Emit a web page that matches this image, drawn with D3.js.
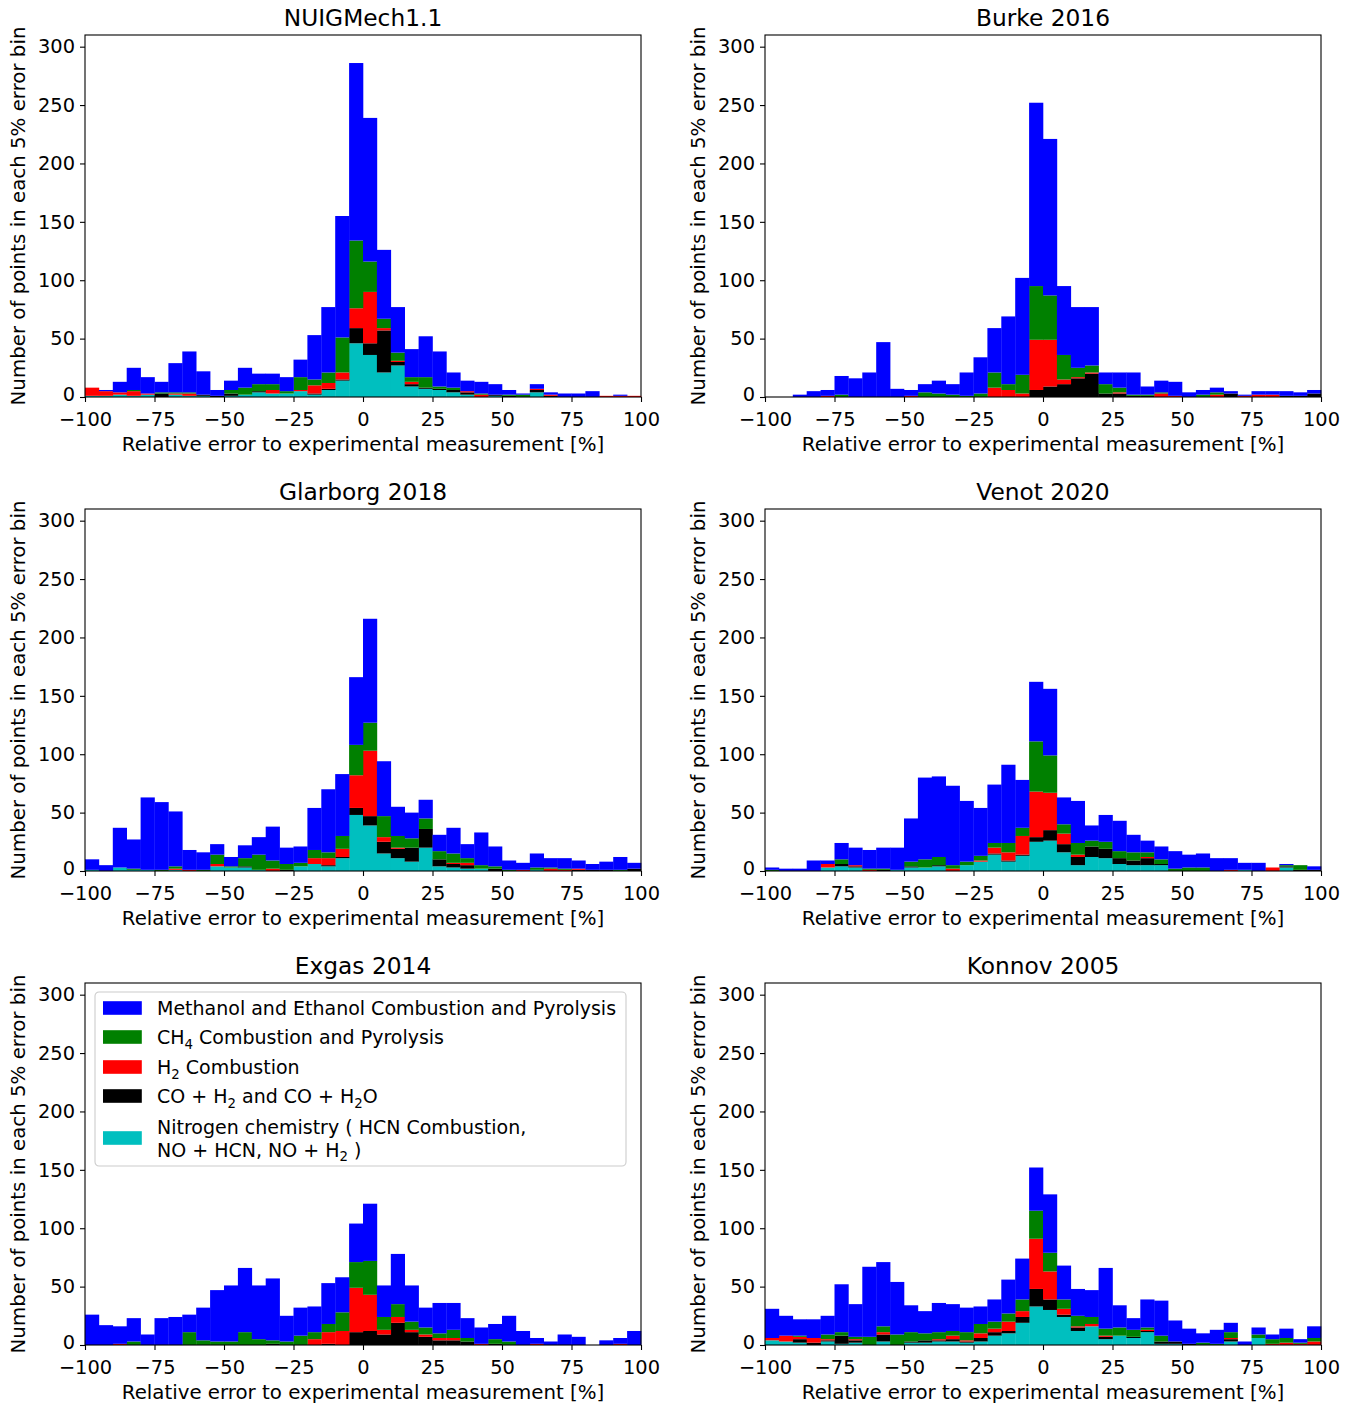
<!DOCTYPE html>
<html><head><meta charset="utf-8">
<script src="https://cdn.jsdelivr.net/npm/d3@7"></script>
<style>
body{margin:0;background:#fff}
text{font-family:"DejaVu Sans",sans-serif;fill:#000}
</style>
</head><body><div id="chart"></div>
<script>
// ---------------- DATA ----------------
const modelNames = ["NUIGMech1.1","Burke 2016","Glarborg 2018","Venot 2020","Exgas 2014","Konnov 2005"];
const xTicks = [-100,-75,-50,-25,0,25,50,75,100];
const yTicks = [0,50,100,150,200,250,300];
const binStart = -100, binWidth = 5, binCount = 40;

// series (stack order bottom -> top): Nitrogen, CO, H2, CH4, Methanol/Ethanol
const nuigN    = [1,1,2,1,2,0,2,1,1,0, 1,2,4,3,3,5,2,6,14,46, 36,21,27,9,7,6,4,2,0,1, 0,0,4,0,0,0,0,0,0,0];
const nuigCO   = [0,0,0,0,0,3,0,0,1,1, 2,0,1,0,0,0,1,1,1,13, 10,36,3,2,1,1,2,2,0,1, 1,0,2,1,0,0,0,0,0,0];
const nuigH2   = [7,4,2,4,1,0,1,2,0,0, 0,0,0,3,0,1,7,5,6,17, 44,2,1,2,0,0,0,1,2,0, 0,0,1,1,0,0,0,1,1,1];
const nuigCH4  = [0,0,0,1,0,1,1,1,0,0, 3,6,6,5,2,11,5,9,30,58, 26,8,7,4,9,2,2,0,1,0, 1,2,0,0,0,0,0,0,0,0];
const nuigMeOH = [0,1,9,19,14,9,25,35,20,5, 8,17,9,9,12,15,38,56,104,152, 123,59,39,24,35,30,13,9,10,9, 4,1,4,2,3,3,5,0,1,0];

const burkeN    = [0,0,0,0,0,0,0,0,0,0, 0,0,0,0,0,0,0,0,0,0, 0,0,0,0,0,0,0,0,0,0, 0,0,0,0,0,0,0,0,0,0];
const burkeCO   = [0,0,0,0,0,0,0,0,0,0, 0,0,0,0,0,0,0,0,0,6, 9,11,16,20,3,3,1,1,0,0, 0,0,0,3,0,0,0,1,1,3];
const burkeH2   = [0,0,0,0,1,0,0,0,0,0, 1,0,0,0,0,0,8,6,3,43, 40,4,1,1,0,1,0,0,3,1, 0,0,2,0,1,2,2,0,0,0];
const burkeCH4  = [0,0,0,0,0,2,0,0,0,0, 0,4,3,2,1,3,13,5,16,46, 38,21,8,6,8,4,1,1,1,0, 0,2,2,0,0,0,0,0,0,0];
const burkeMeOH = [0,0,2,5,5,16,16,21,47,7, 5,7,11,9,20,31,38,58,83,157, 134,59,52,50,10,13,19,7,10,12, 4,4,4,2,1,3,3,4,3,3];

const glarN    = [1,0,3,1,1,0,1,0,0,4, 3,3,1,0,0,4,6,4,11,48, 39,15,11,8,20,4,3,2,2,0, 0,0,1,0,0,0,0,0,0,0];
const glarCO   = [0,0,0,0,0,0,0,0,0,0, 0,1,0,0,1,0,0,1,1,6, 8,10,8,12,16,6,3,3,0,2, 0,0,0,0,0,1,1,1,0,2];
const glarH2   = [0,0,0,0,0,0,1,1,0,2, 0,0,0,2,0,0,5,6,7,28, 56,4,1,0,0,0,1,2,0,0, 0,1,0,2,1,1,0,0,0,0];
const glarCH4  = [0,0,0,1,0,1,2,0,1,8, 1,7,13,7,5,3,7,5,11,26, 24,18,10,8,9,7,8,4,3,2, 1,0,2,1,1,0,0,0,1,0];
const glarMeOH = [9,5,34,25,62,58,47,17,15,9, 8,11,15,29,14,14,36,54,53,58, 89,47,25,22,16,14,22,12,28,17, 8,6,12,8,9,7,5,7,11,5];

const venotN    = [0,0,0,0,3,4,3,0,0,1, 3,3,4,0,5,8,14,8,13,25, 26,16,5,12,11,6,5,5,5,0, 0,0,0,0,1,0,0,3,0,0];
const venotCO   = [0,0,0,0,0,2,1,0,1,0, 1,0,1,0,0,0,1,1,1,4, 9,7,7,9,8,5,4,6,1,0, 0,0,0,0,0,0,0,1,1,1];
const venotH2   = [0,0,0,0,3,0,1,1,0,0, 0,0,0,2,0,1,5,7,16,39, 32,9,2,0,0,0,0,1,0,0, 0,0,0,1,0,0,3,0,0,0];
const venotCH4  = [1,0,0,0,0,4,0,1,1,0, 4,7,7,3,3,4,4,8,7,43, 32,8,10,5,6,6,7,4,4,2, 3,3,0,0,0,0,0,1,4,0];
const venotMeOH = [2,2,2,9,3,14,15,16,18,19, 37,70,69,68,52,41,50,67,41,51, 57,23,36,13,23,26,15,10,11,15, 11,12,11,10,6,7,0,1,0,3];

const exgasN    = [0,0,0,0,0,0,0,0,0,0, 0,0,0,0,0,0,0,0,0,0, 0,0,0,0,0,0,0,0,0,0, 0,0,0,0,0,0,0,0,0,0];
const exgasCO   = [0,0,0,0,0,0,0,0,0,0, 0,0,0,1,0,0,0,1,0,11, 12,9,19,11,7,4,4,3,0,1, 0,0,0,0,0,0,0,0,0,0];
const exgasH2   = [0,0,1,0,0,0,0,0,0,0, 0,0,0,0,0,0,5,10,12,38, 31,4,5,2,2,2,2,0,1,0, 0,0,1,0,0,0,0,0,1,0];
const exgasCH4  = [0,0,0,3,0,0,0,11,4,3, 3,11,5,3,3,8,6,7,16,22, 29,11,11,7,6,4,7,3,0,4, 3,0,0,0,0,0,0,0,0,0];
const exgasMeOH = [26,17,15,20,9,23,24,15,28,44, 48,55,46,53,22,24,22,35,30,33, 49,27,43,31,17,26,23,17,14,13, 22,12,5,3,9,7,0,4,5,12];

const konnovN    = [4,3,2,0,3,1,2,0,3,0, 2,2,3,3,2,3,8,10,19,33, 30,24,12,16,5,8,6,11,1,1, 0,0,0,3,0,6,0,0,0,0];
const konnovCO   = [0,0,3,2,1,7,2,0,6,0, 1,2,1,2,1,3,3,2,5,15, 9,2,3,0,2,0,1,1,2,2, 1,0,0,2,0,0,0,0,0,0];
const konnovH2   = [2,5,2,4,1,0,1,0,2,0, 0,0,1,3,1,4,3,8,5,43, 24,5,1,2,1,0,0,1,0,0, 0,0,0,1,0,0,1,2,1,3];
const konnovCH4  = [0,0,1,0,4,3,2,7,5,9, 8,6,6,4,7,8,6,7,10,24, 16,8,9,6,6,7,6,2,5,0, 0,2,1,5,0,3,4,4,1,3];
const konnovMeOH = [25,17,14,16,16,41,28,60,55,45, 23,19,25,23,21,15,19,29,35,37, 50,29,23,23,52,19,10,24,30,18, 13,8,12,8,3,6,4,8,3,10];

const seriesKeys = ["N","CO","H2","CH4","MeOH"];
const modelSeries = [
  [nuigN, nuigCO, nuigH2, nuigCH4, nuigMeOH],
  [burkeN, burkeCO, burkeH2, burkeCH4, burkeMeOH],
  [glarN, glarCO, glarH2, glarCH4, glarMeOH],
  [venotN, venotCO, venotH2, venotCH4, venotMeOH],
  [exgasN, exgasCO, exgasH2, exgasCH4, exgasMeOH],
  [konnovN, konnovCO, konnovH2, konnovCH4, konnovMeOH]
];

// ---------------- STYLE / LAYOUT ----------------
const colors = {N:"#00bfbf", CO:"#000000", H2:"#ff0000", CH4:"#008000", MeOH:"#0000ff"};
const W = 1357, H = 1405;
const colX = [85, 765], rowY = [35, 509, 983];
const PW = 556, PH = 362;
const fs = 19.4, titleFs = 23.3, legFs = 19;

const svg = d3.select("#chart").append("svg")
  .attr("width", W).attr("height", H)
  .style("background","#fff");

const x = d3.scaleLinear().domain([-100,100]).range([0, PW]);
const y = d3.scaleLinear().domain([0,310]).range([PH, 0]);
const minus = d => d < 0 ? "\u2212" + Math.abs(d) : String(d);

const stack = d3.stack().keys(seriesKeys);

modelNames.forEach((name, mi) => {
  const gx = colX[mi % 2], gy = rowY[Math.floor(mi / 2)];
  const g = svg.append("g").attr("transform", `translate(${gx},${gy})`);

  const rows = d3.range(binCount).map(i => {
    const o = {x0: binStart + i * binWidth};
    seriesKeys.forEach((k, si) => o[k] = modelSeries[mi][si][i]);
    return o;
  });
  const layers = stack(rows);

  const bw = x(binStart + binWidth) - x(binStart);
  g.selectAll("g.layer").data(layers).join("g")
    .attr("class","layer")
    .attr("fill", d => colors[d.key])
    .selectAll("rect").data(d => d.filter(v => v[1] > v[0])).join("rect")
    .attr("x", d => x(d.data.x0))
    .attr("width", bw + 0.3)
    .attr("y", d => y(d[1]))
    .attr("height", d => y(d[0]) - y(d[1]));

  // axes
  const xa = g.append("g").attr("transform", `translate(0,${PH})`)
    .call(d3.axisBottom(x).tickValues(xTicks).tickFormat(minus).tickSize(5).tickPadding(10));
  const ya = g.append("g")
    .call(d3.axisLeft(y).tickValues(yTicks).tickSize(5).tickPadding(5));
  [xa, ya].forEach(a => {
    a.select(".domain").remove();
    a.selectAll("line").attr("stroke","#000").attr("stroke-width",1.1);
    a.selectAll("text").attr("font-size", fs).attr("font-family","DejaVu Sans").attr("fill","#000");
  });
  // lift the "0" y label a little so it does not touch the x tick labels
  ya.selectAll(".tick").filter(d => d === 0).select("text").attr("dy","0.2em");

  // frame
  g.append("rect").attr("width", PW).attr("height", PH)
    .attr("fill","none").attr("stroke","#000").attr("stroke-width",1.1);

  // title
  g.append("text").attr("x", PW/2).attr("y", -9)
    .attr("text-anchor","middle").attr("font-size", titleFs).text(name);

  // axis labels
  g.append("text").attr("x", PW/2).attr("y", PH + 54)
    .attr("text-anchor","middle").attr("font-size", 19.8)
    .text("Relative error to experimental measurement [%]");
  g.append("text")
    .attr("transform", `translate(${-60},${PH/2}) rotate(-90)`)
    .attr("text-anchor","middle").attr("font-size", 19.8)
    .text("Number of points in each 5% error bin");
});

// ---------------- LEGEND (in Exgas panel) ----------------
const legendLabels = [
  [["Methanol and Ethanol Combustion and Pyrolysis"]],
  [["CH"],["4","sub"],[" Combustion and Pyrolysis"]],
  [["H"],["2","sub"],[" Combustion"]],
  [["CO + H"],["2","sub"],[" and CO + H"],["2","sub"],["O"]],
  [["Nitrogen chemistry ( HCN Combustion,"]],
];
const legendLine2 = [["NO + HCN, NO + H"],["2","sub"],[" )"]];
const legendKeys = ["MeOH","CH4","H2","CO","N"];

const lg = svg.append("g").attr("transform","translate(95,992)");
lg.append("rect").attr("width",531).attr("height",174).attr("rx",4)
  .attr("fill","#fff").attr("fill-opacity",0.8)
  .attr("stroke","#cccccc").attr("stroke-width",1.1);

const rowCenters = [16, 45, 75, 104, 146];
const subShift = 4.5;
function addRich(textSel, parts){
  let shifted = false;
  parts.forEach(p => {
    const ts = textSel.append("tspan").text(p[0]);
    if (p[1] === "sub") {
      ts.attr("font-size", legFs*0.7).attr("dy", shifted ? 0 : subShift);
      shifted = true;
    } else {
      if (shifted) ts.attr("dy", -subShift);
      shifted = false;
    }
  });
}
legendKeys.forEach((k, i) => {
  const cy = rowCenters[i];
  lg.append("rect").attr("x",8).attr("y", cy - 6.8).attr("width",38.8).attr("height",13.6)
    .attr("fill", colors[k]);
  if (i < 4) {
    const t = lg.append("text").attr("x",62).attr("y", cy + 7).attr("font-size", legFs);
    addRich(t, legendLabels[i]);
  } else {
    const t1 = lg.append("text").attr("x",62).attr("y", cy - 4.5).attr("font-size", legFs);
    addRich(t1, legendLabels[i]);
    const t2 = lg.append("text").attr("x",62).attr("y", cy + 18.5).attr("font-size", legFs);
    addRich(t2, legendLine2);
  }
});
</script>
</body></html>
